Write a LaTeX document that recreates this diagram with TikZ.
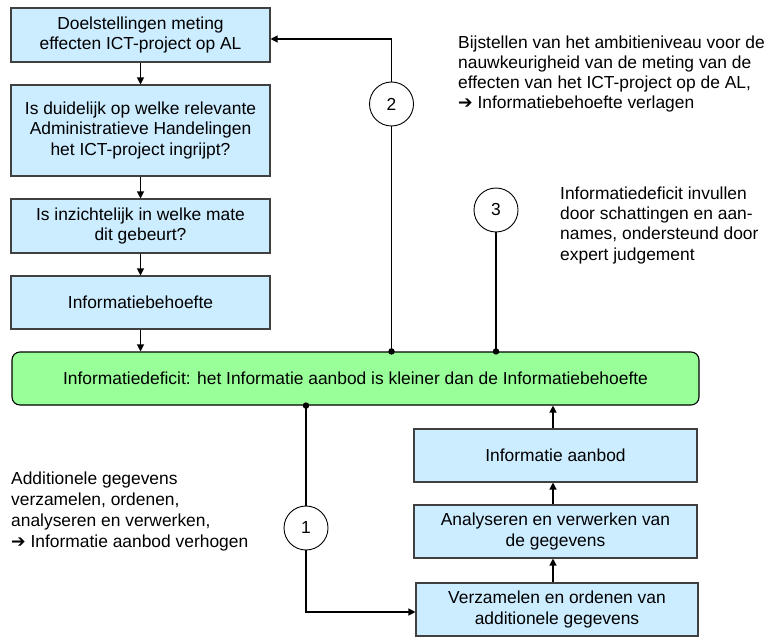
\documentclass[tikz,border=0pt]{standalone}
\usepackage{fontspec}
\setmainfont{Liberation Sans}
\newfontfamily\symfont{DejaVu Sans}
\usetikzlibrary{arrows.meta}
\definecolor{boxblue}{HTML}{CCECFF}
\definecolor{boxgreen}{HTML}{99FF99}
\definecolor{boxline}{HTML}{404040}
\begin{document}
\begin{tikzpicture}[x=1pt,y=-1pt,
  every node/.style={font=\fontsize{17.4}{20.3}\selectfont, inner sep=0pt},
  stepbox/.style={draw=boxline, line width=1.1pt, fill=boxblue, align=center, minimum height=53pt},
  leftbox/.style={stepbox, minimum width=259pt},
  rightbox/.style={stepbox, minimum width=283pt},
  deficit/.style={draw=black, line width=1.1pt, fill=boxgreen, rounded corners=8pt,
    minimum width=687pt, minimum height=53pt},
  marker/.style={circle, draw=black, fill=white, line width=0.9pt, minimum size=44pt},
  link/.style={line width=1.2pt, draw=black},
  flow/.style={link, -{Triangle[length=7pt,width=7pt]}},
  joint/.style={circle, fill=black, minimum size=6.5pt},
  note/.style={align=left, anchor=base west},
]
\useasboundingbox (0,0) rectangle (771,639);

% left column: from objectives to information need
\node[leftbox, minimum height=54pt] (b1) at (140.5,35) {Doelstellingen meting\\effecten ICT-project op AL};
\node[leftbox, minimum height=91pt] (b2) at (140.5,130.5) {Is duidelijk op welke relevante\\Administratieve Handelingen\\het ICT-project ingrijpt?};
\node[leftbox, minimum height=54pt] (b3) at (140.5,226) {Is inzichtelijk in welke mate\\dit gebeurt?};
\node[leftbox] (b4) at (140.5,302.5) {Informatiebehoefte};

% the information deficit bar
\node[deficit] (def) at (355.5,378.5) {Informatiedeficit: het Informatie aanbod is kleiner dan de Informatiebehoefte};

% right column: from data collection up to the information supply
\node[rightbox] (ia) at (555.5,455.5) {Informatie aanbod};
\node[rightbox] (an) at (555.5,531.5) {Analyseren en verwerken van\\de gegevens};
\node[rightbox, minimum width=282pt] (vz) at (557,609.5) {Verzamelen en ordenen van\\additionele gegevens};

% numbered options
\node[marker] (m1) at (306,528) {1};
\node[marker] (m2) at (391.5,104) {2};
\node[marker] (m3) at (496,210) {3};

\coordinate (k1) at (306,612);
\coordinate (k2) at (391.5,39);
\coordinate (rx) at (553,0);

% connectors
\draw[flow] (b1) -- (b2);
\draw[flow] (b2) -- (b3);
\draw[flow] (b3) -- (b4);
\draw[flow] (b4.south) -- (b4.south |- def.north);

\draw[link] (m2 |- def.north) -- (m2.south);
\draw[flow] (m2.north) -- (k2) -- (k2 -| b1.east);
\draw[link] (m3 |- def.north) -- (m3.south);
\draw[link] (m1 |- def.south) -- (m1.north);
\draw[flow] (m1.south) -- (k1) -- (k1 -| vz.west);

\draw[flow] (vz.north -| rx) -- (an.south -| rx);
\draw[flow] (an.north -| rx) -- (ia.south -| rx);
\draw[flow] (ia.north -| rx) -- (def.south -| rx);

% junction dots on the deficit bar
\node[joint] (j1) at (m1 |- def.south) {};
\node[joint] (j2) at (m2 |- def.north) {};
\node[joint] (j3) at (m3 |- def.north) {};

% explanatory notes (anchored on the baseline of their last line)
\node[note] (n2) at (458,109) {Bijstellen van het ambitieniveau voor de\\nauwkeurigheid van de meting van de\\effecten van het ICT-project op de AL,\\{\symfont ➔} Informatiebehoefte verlagen};
\node[note] (n3) at (560,260) {Informatiedeficit invullen\\door schattingen en aan-\\names, ondersteund door\\expert judgement};
\node[note, font=\fontsize{17.4}{21}\selectfont] (n1) at (11,547) {Additionele gegevens\\verzamelen, ordenen,\\analyseren en verwerken,\\{\symfont ➔} Informatie aanbod verhogen};
\end{tikzpicture}
\end{document}
